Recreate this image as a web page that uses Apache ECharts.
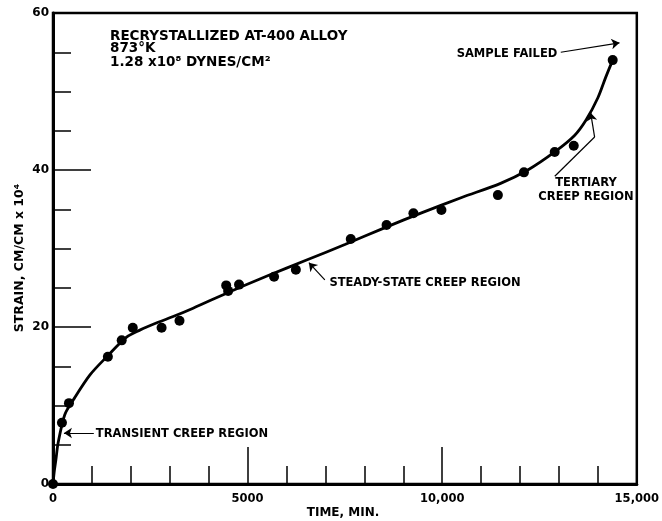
<!DOCTYPE html>
<html>
<head>
<meta charset="utf-8">
<script src="https://cdn.jsdelivr.net/npm/echarts@6/dist/echarts.min.js"></script>
<style>html,body{margin:0;padding:0;background:#fff;}#c{width:662px;height:521px;}</style>
</head>
<body>
<div id="c"></div>
<script>
// Measured creep data points (time in min, strain in cm/cm x 10^4)
const pointTime   = [0, 230, 410, 1410, 1765, 2050, 2790, 3250, 4450, 4500, 4780, 5680, 6240, 7650, 8570, 9260, 9980, 11430, 12100, 12890, 13380, 14380];
const pointStrain = [0, 7.8, 10.3, 16.2, 18.3, 19.9, 19.9, 20.8, 25.3, 24.6, 25.4, 26.4, 27.3, 31.2, 33.0, 34.5, 34.9, 36.8, 39.7, 42.3, 43.1, 54.0];
// Hand-drawn fitted creep curve
const curveTime   = [0, 30, 75, 130, 300, 520, 950, 1380, 1890, 2230, 2700, 3070, 3600, 4500, 5500, 6500, 7500, 8500, 9500, 10500, 11500, 12200, 12890, 13400, 13700, 14000, 14200, 14380];
const curveStrain = [0, 1.5, 3.1, 5.2, 8.8, 10.7, 13.9, 16.2, 18.7, 19.6, 20.6, 21.3, 22.4, 24.4, 26.5, 28.5, 30.5, 32.6, 34.6, 36.5, 38.3, 40.0, 42.3, 44.4, 46.4, 49.2, 51.8, 54.0];
// Axis tick labels
const xTickValues = [0, 5000, 10000, 15000];
const xTickLabels = ['0', '5000', '10,000', '15,000'];
const yTickValues = [0, 20, 40, 60];
const yTickLabels = ['0', '20', '40', '60'];

const FONT = '"DejaVu Sans", sans-serif';
const chart = echarts.init(document.getElementById('c'), null, {renderer: 'canvas'});

const pts = pointTime.map((t, i) => [t, pointStrain[i]]);
const curve = curveTime.map((t, i) => [t, curveStrain[i]]);

function txt(x, y, text, size, align, extra) {
  return Object.assign({
    type: 'text', x: x, y: y, silent: true,
    style: {
      text: text, fill: '#000',
      font: 'bold ' + size + 'px ' + FONT,
      align: align || 'left', textAlign: align || 'left',
      verticalAlign: 'middle', textVerticalAlign: 'middle',
      lineHeight: size + 2
    }
  }, extra || {});
}

const option = {
  animation: false,
  backgroundColor: '#fff',
  grid: {left: 53, right: 24, top: 13, bottom: 37, show: true, borderColor: '#000', borderWidth: 2.5, backgroundColor: 'transparent'},
  xAxis: {
    type: 'value', min: 0, max: 15000, interval: 5000,
    axisLine: {show: true, onZero: false, lineStyle: {color: '#000', width: 3}},
    axisTick: {show: true, inside: true, length: 37, lineStyle: {color: '#000', width: 1.5}},
    minorTick: {show: true, splitNumber: 5, length: 18, lineStyle: {color: '#000', width: 1.5}},
    splitLine: {show: false},
    axisLabel: {
      color: '#000', fontFamily: FONT, fontWeight: 'bold', fontSize: 11.5, margin: 9,
      formatter: v => { const i = xTickValues.indexOf(v); return i >= 0 ? xTickLabels[i] : ''; }
    }
  },
  yAxis: {
    type: 'value', min: 0, max: 60, interval: 20,
    axisLine: {show: true, onZero: false, lineStyle: {color: '#000', width: 3}},
    axisTick: {show: true, inside: true, length: 38, lineStyle: {color: '#000', width: 1.5}},
    minorTick: {show: true, splitNumber: 4, length: 18, lineStyle: {color: '#000', width: 1.5}},
    splitLine: {show: false},
    axisLabel: {
      color: '#000', fontFamily: FONT, fontWeight: 'bold', fontSize: 12, margin: 4,
      formatter: v => { const i = yTickValues.indexOf(v); return i >= 0 ? yTickLabels[i] : ''; }
    }
  },
  series: [
    {
      type: 'line', data: curve, showSymbol: false, symbol: 'none',
      smooth: 0.3,
      lineStyle: {color: '#000', width: 2.8}, z: 2
    },
    {
      type: 'scatter', data: pts, symbol: 'circle', symbolSize: 10,
      itemStyle: {color: '#000', opacity: 1}, z: 3
    },
    {
      type: 'lines', coordinateSystem: 'cartesian2d', z: 4,
      symbol: ['none', 'arrow'], symbolSize: [4, 8],
      lineStyle: {color: '#000', width: 1.2, opacity: 1},
      data: [
        {coords: [[13046, 55.0], [14555, 56.2]]},
        {coords: [[13916, 44.2], [13813, 47.3]]},
        {coords: [[6984, 26.0], [6574, 28.2]]},
        {coords: [[1049, 6.5], [281, 6.5]]}
      ]
    },
    {
      type: 'lines', coordinateSystem: 'cartesian2d', z: 4,
      symbol: ['none', 'none'],
      lineStyle: {color: '#000', width: 1.2, opacity: 1},
      data: [
        {coords: [[12892, 39.2], [13916, 44.2]]}
      ]
    }
  ],
  graphic: [
    txt(110, 36, 'RECRYSTALLIZED AT-400 ALLOY', 13.5),
    txt(110, 48.5, '873°K', 13.5),
    txt(110, 62, '1.28 x10⁸ DYNES/CM²', 13.5),
    txt(507, 54, 'SAMPLE FAILED', 11.5, 'center'),
    txt(586, 190, 'TERTIARY\nCREEP REGION', 11.5, 'center'),
    txt(425, 283, 'STEADY-STATE CREEP REGION', 11.5, 'center'),
    txt(182, 434, 'TRANSIENT CREEP REGION', 11.5, 'center'),
    txt(343, 513, 'TIME, MIN.', 12, 'center'),
    txt(20, 258, 'STRAIN, CM/CM x 10⁴', 12.5, 'center', {rotation: Math.PI / 2})
  ]
};
chart.setOption(option);
</script>
</body>
</html>
